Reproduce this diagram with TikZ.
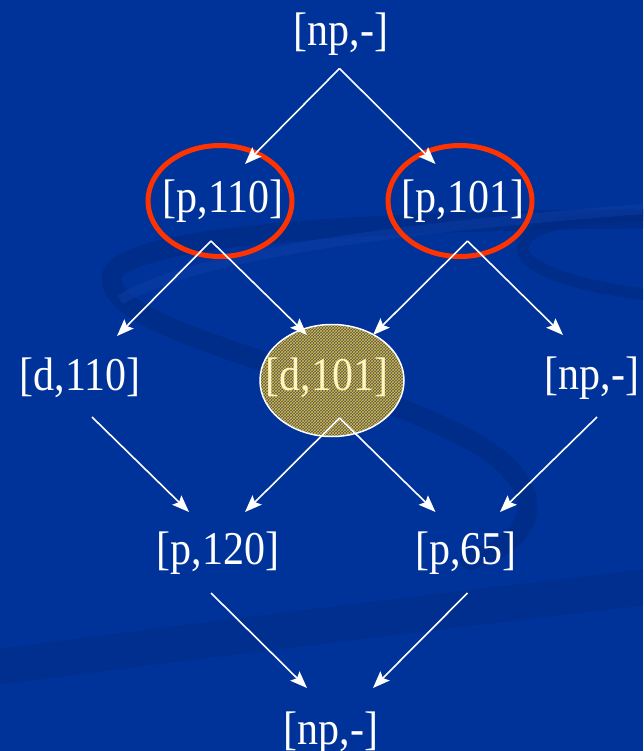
\documentclass[tikz,border=0pt]{standalone}
\usepackage{fontspec}
\setmainfont{Liberation Serif}
\usetikzlibrary{arrows.meta,patterns,shapes.geometric}
\definecolor{bg}{RGB}{0,51,153}
\definecolor{swirl}{RGB}{0,40,125}
\definecolor{swirllight}{RGB}{15,62,165}
\definecolor{ringred}{RGB}{255,51,0}
\definecolor{hatch}{RGB}{220,190,55}
\definecolor{hatchbase}{RGB}{80,85,105}
\definecolor{pale}{RGB}{255,245,190}
\newcommand{\tallt}[1]{\scalebox{1}[1.12]{#1}}
\begin{document}
\begin{tikzpicture}[x=1pt,y=-1pt,
  lbl/.style={text=white,font=\fontsize{42}{42}\selectfont,inner sep=0pt},
  arr/.style={draw=white,line width=1.6pt,-{Stealth[length=17pt,width=13pt,inset=3pt]}},
  ring/.style={draw=ringred,line width=5pt,ellipse,minimum width=144pt,minimum height=111pt,inner sep=0pt},
  hatchring/.style={ellipse,minimum width=144pt,minimum height=112pt,inner sep=0pt,fill=hatchbase},
  swirlband/.style={draw=swirl,line cap=round,opacity=0.5}
]
% background
\useasboundingbox (0,0) rectangle (643,751);
\clip (0,0) rectangle (643,751);
\fill[bg] (0,0) rectangle (643,751);
% background swirls
\draw[swirlband,line width=20pt] (700,218) .. controls (420,220) and (130,230) .. (112,275)
   .. controls (100,330) and (330,370) .. (450,430) .. controls (560,480) and (540,540) .. (470,560);
\draw[swirlband,line width=12pt] (700,300) .. controls (560,290) and (500,260) .. (530,235) .. controls (560,215) and (620,215) .. (700,215);
\draw[swirlband,line width=36pt,opacity=0.3] (-40,672) .. controls (200,640) and (450,610) .. (690,582);
\draw[draw=swirllight,line width=10pt,opacity=0.5] (120,300) .. controls (200,250) and (450,222) .. (700,205);
% rings and ellipse shapes
\node[ring] (r1) at (220,201) {};
\node[ring] (r2) at (460,201) {};
\node[hatchring] (d101e) at (332,380.5) {};
\fill[pattern=crosshatch,pattern color=hatch] (d101e.center) ellipse [x radius=71.5pt,y radius=55.5pt];
\draw[white,line width=1.5pt] (d101e.center) ellipse [x radius=72pt,y radius=56pt];
% labels
\node[lbl] (np1) at (341,34) {\tallt{[np,-]}};
\node[lbl] (p110) at (223,201) {\tallt{[p,110]}};
\node[lbl] (p101) at (463,201) {\tallt{[p,101]}};
\node[lbl] (d110) at (80,378) {\tallt{[d,110]}};
\node[lbl,text=pale] (d101) at (327,378) {\tallt{[d,101]}};
\node[lbl] (np2) at (592,378) {\tallt{[np,-]}};
\node[lbl] (p120) at (218,553) {\tallt{[p,120]}};
\node[lbl] (p65) at (466,553) {\tallt{[p,65]}};
\node[lbl] (np3) at (331,733) {\tallt{[np,-]}};
% connector endpoints
\coordinate (np1o) at (339.5,68.5);
\coordinate (p110i) at (245,164);
\coordinate (p101i) at (435.5,164);
\coordinate (p110o) at (211,241);
\coordinate (p101o) at (467.5,241);
\coordinate (d110i) at (117,336);
\coordinate (d101il) at (307,335);
\coordinate (d101ir) at (373,335);
\coordinate (np2i) at (563,335);
\coordinate (d110o) at (92,417);
\coordinate (d101o) at (339.5,418);
\coordinate (np2o) at (597,417);
\coordinate (p120il) at (189,512);
\coordinate (p120ir) at (245,512);
\coordinate (p65il) at (435.5,512);
\coordinate (p65ir) at (500,512);
\coordinate (p120o) at (211,593);
\coordinate (p65o) at (467.5,593);
\coordinate (np3il) at (307,688);
\coordinate (np3ir) at (373,688);
% connectors
\draw[arr] (np1o) -- (p110i);
\draw[arr] (np1o) -- (p101i);
\draw[arr] (p110o) -- (d110i);
\draw[arr] (p110o) -- (d101il);
\draw[arr] (p101o) -- (d101ir);
\draw[arr] (p101o) -- (np2i);
\draw[arr] (d110o) -- (p120il);
\draw[arr] (d101o) -- (p120ir);
\draw[arr] (d101o) -- (p65il);
\draw[arr] (np2o) -- (p65ir);
\draw[arr] (p120o) -- (np3il);
\draw[arr] (p65o) -- (np3ir);
\end{tikzpicture}
\end{document}
